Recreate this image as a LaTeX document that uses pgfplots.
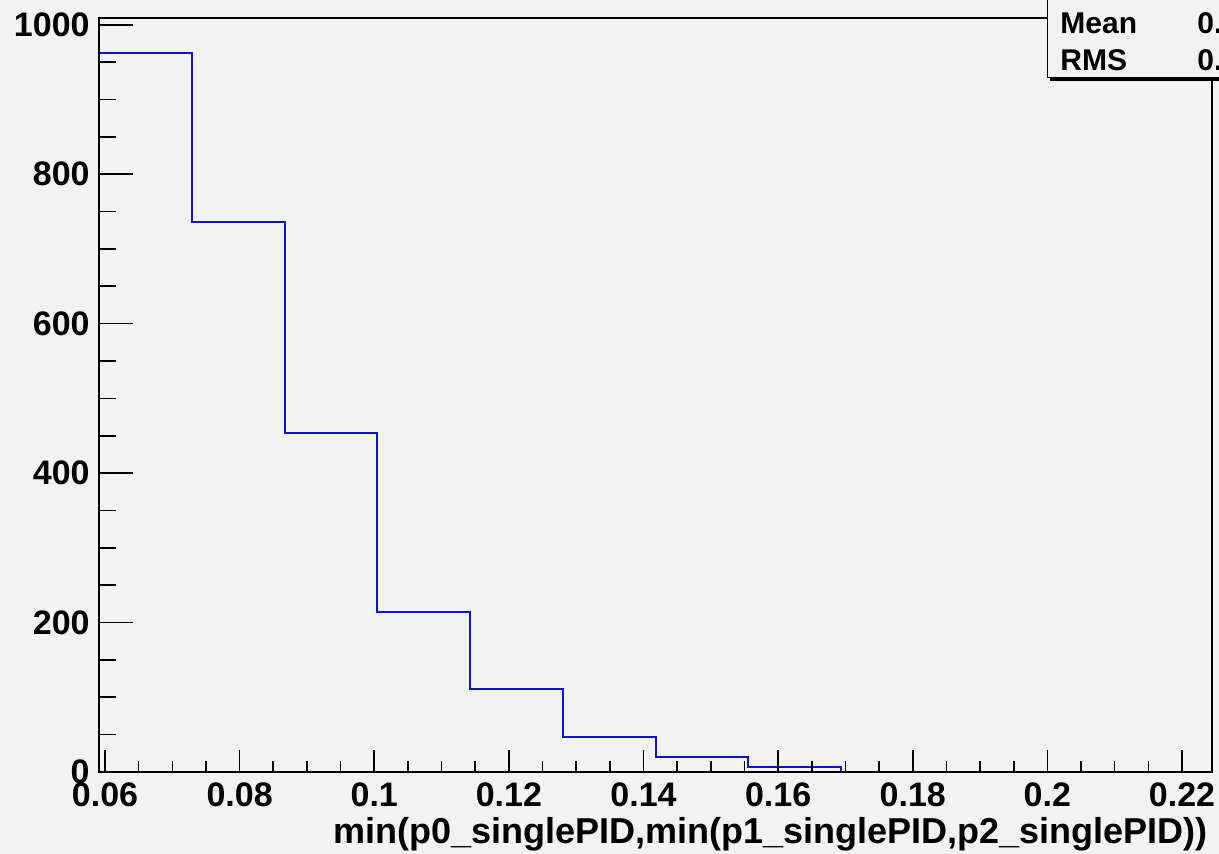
\documentclass[border=0pt]{standalone}
\usepackage{pgfplots}
\pgfplotsset{compat=1.18}
\usepackage{fontspec}
\setmainfont{Liberation Sans}
\definecolor{rootbg}{RGB}{242,242,242}
\definecolor{rootblue}{RGB}{20,20,190}
\begin{document}
\begin{tikzpicture}[x=1pt,y=1pt]
\fill[rootbg] (-49.5,-41) rectangle (560,386);
\begin{axis}[
  at={(0,0)}, anchor=south west,
  scale only axis, width=556.5pt, height=377pt,
  xmin=0.05911, xmax=0.22446, ymin=0, ymax=1009,
  axis on top,
  axis line style={line width=1pt},
  xtick={0.06,0.08,0.1,0.12,0.14,0.16,0.18,0.2,0.22},
  xticklabels={0.06,0.08,0.1,0.12,0.14,0.16,0.18,0.2,0.22},
  ytick={0,200,400,600,800,1000},
  yticklabels={0,200,400,600,800,1000},
  minor x tick num=3, minor y tick num=3,
  xtick pos=bottom, ytick pos=left,
  tick align=inside,
  major tick length=17pt, minor tick length=8.5pt,
  xtick style={/pgfplots/major tick length=11pt,/pgfplots/minor tick length=5.5pt},
  tick style={black, line width=0.8pt},
  ticklabel style={font=\bfseries\fontsize{17}{19}\selectfont, inner sep=0pt},
  xticklabel style={anchor=north, yshift=-5pt},
  yticklabel style={anchor=east, xshift=-4.5pt},
  xlabel={min(p0\_singlePID,min(p1\_singlePID,p2\_singlePID))},
  xlabel style={at={(rel axis cs:1,0)}, anchor=base east, yshift=-36pt, xshift=-2pt,
    inner sep=0pt, font=\bfseries\fontsize{18}{20}\selectfont},
]
\addplot[const plot, rootblue, line width=1pt] coordinates {
  (0.05911,962) (0.07289,736) (0.08667,454) (0.10045,214)
  (0.11423,111) (0.12801,47) (0.14179,20) (0.15557,7)
  (0.16935,0) (0.18313,0) (0.19690,0) (0.21068,0) (0.22446,0)
};
\end{axis}
% statistics box, cut by the picture's right and top edges
\fill[black] (475.5,345.5) rectangle (568,392);
\filldraw[fill=rootbg, draw=black, line width=0.5pt] (474,347.2) rectangle (566,392);
\begin{scope}[every node/.style={anchor=west, inner sep=0pt, font=\bfseries\fontsize{15}{17}\selectfont}]
\node at (480.5,374.5) {Mean};
\node at (480.5,356) {RMS};
\node at (549,374.5) {0.};
\node at (549,356) {0.};
\end{scope}
\pgfresetboundingbox
\useasboundingbox (-49.5,-41) rectangle (560,386);
\end{tikzpicture}
\end{document}
